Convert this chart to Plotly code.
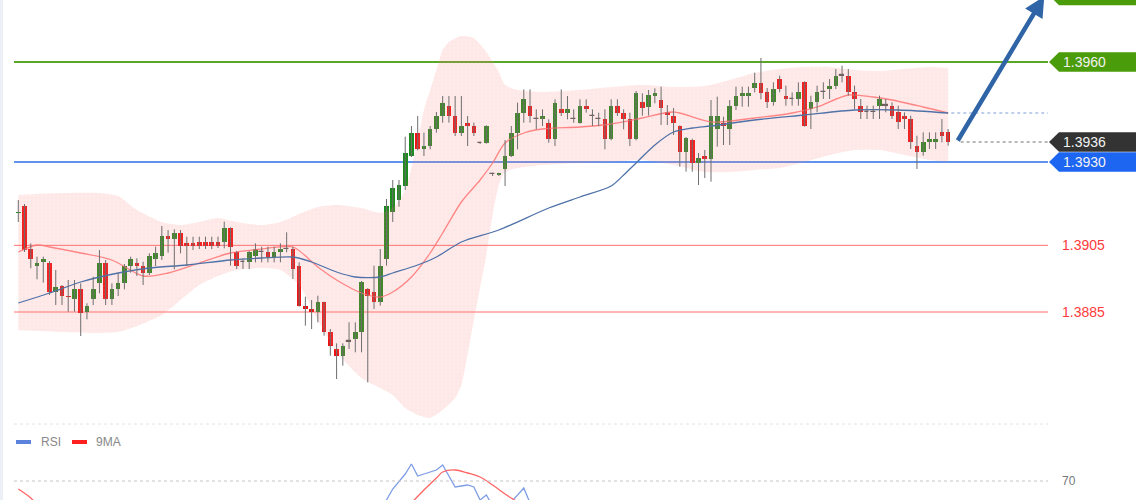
import plotly.graph_objects as go

# ---------------- data ----------------
opens = [
    1.39147, 1.39169, 1.39038, 1.38988, 1.38999, 1.38998, 1.38909, 1.38928, 1.38898, 1.38888,
    1.38918, 1.38851, 1.38888, 1.38936, 1.38998, 1.38888, 1.38918, 1.38938, 1.38988, 1.38998,
    1.38988, 1.38968, 1.39008, 1.39018, 1.39078, 1.39068, 1.39088, 1.39058, 1.39058, 1.39059,
    1.39059, 1.39059, 1.39059, 1.39061, 1.39101, 1.39029, 1.38999, 1.38999, 1.39019, 1.39029,
    1.39029, 1.39016, 1.39029, 1.39039, 1.39039, 1.38989, 1.38869, 1.38859, 1.38849, 1.38879,
    1.38789, 1.38739, 1.38719, 1.38761, 1.38769, 1.38789, 1.38919, 1.38909, 1.38879, 1.39009,
    1.39150, 1.39186, 1.39228, 1.39318, 1.39388, 1.39338, 1.39348, 1.39398, 1.39438, 1.39468,
    1.39438, 1.39388, 1.39418, 1.39408, 1.39358, 1.39358, 1.39264, 1.39261, 1.39278, 1.39318,
    1.39388, 1.39448, 1.39468, 1.39428, 1.39428, 1.39418, 1.39368, 1.39458, 1.39448, 1.39428,
    1.39418, 1.39468, 1.39438, 1.39429, 1.39428, 1.39368, 1.39468, 1.39448, 1.39428, 1.39368,
    1.39481, 1.39466, 1.39498, 1.39486, 1.39451, 1.39438, 1.39408, 1.39331, 1.39366, 1.39296,
    1.39318, 1.39308, 1.39398, 1.39418, 1.39398, 1.39468, 1.39498, 1.39498, 1.39521, 1.39538,
    1.39509, 1.39479, 1.39549, 1.39499, 1.39489, 1.39489, 1.39539, 1.39459, 1.39479, 1.39509,
    1.39519, 1.39529, 1.39559, 1.39559, 1.39509, 1.39469, 1.39449, 1.39450, 1.39469, 1.39469,
    1.39469, 1.39449, 1.39439, 1.39429, 1.39349, 1.39329, 1.39359, 1.39359, 1.39389, 1.39389,
]
highs = [
    1.39186, 1.39174, 1.39056, 1.39016, 1.39016, 1.39003, 1.38976, 1.38931, 1.38946, 1.38946,
    1.38936, 1.38876, 1.38956, 1.39036, 1.39006, 1.38936, 1.38966, 1.38994, 1.39016, 1.39011,
    1.39001, 1.39026, 1.39046, 1.39108, 1.39096, 1.39098, 1.39096, 1.39076, 1.39076, 1.39076,
    1.39076, 1.39076, 1.39076, 1.39121, 1.39104, 1.39033, 1.39011, 1.39033, 1.39056, 1.39046,
    1.39046, 1.39046, 1.39056, 1.39089, 1.39046, 1.38999, 1.38896, 1.38886, 1.38899, 1.38881,
    1.38799, 1.38756, 1.38756, 1.38819, 1.38819, 1.38943, 1.38922, 1.38989, 1.39039, 1.39189,
    1.39246, 1.39246, 1.39376, 1.39408, 1.39438, 1.39388, 1.39408, 1.39450, 1.39498, 1.39498,
    1.39498, 1.39498, 1.39438, 1.39418, 1.39361, 1.39410, 1.39268, 1.39268, 1.39366, 1.39408,
    1.39478, 1.39518, 1.39518, 1.39458, 1.39458, 1.39428, 1.39488, 1.39518, 1.39498, 1.39458,
    1.39488, 1.39488, 1.39458, 1.39448, 1.39458, 1.39488, 1.39488, 1.39458, 1.39448, 1.39513,
    1.39506, 1.39516, 1.39521, 1.39526, 1.39471, 1.39462, 1.39410, 1.39375, 1.39370, 1.39327,
    1.39336, 1.39486, 1.39496, 1.39436, 1.39486, 1.39526, 1.39526, 1.39526, 1.39568, 1.39612,
    1.39522, 1.39539, 1.39559, 1.39529, 1.39509, 1.39539, 1.39542, 1.39499, 1.39529, 1.39539,
    1.39549, 1.39579, 1.39589, 1.39579, 1.39529, 1.39489, 1.39469, 1.39469, 1.39499, 1.39489,
    1.39479, 1.39469, 1.39449, 1.39439, 1.39379, 1.39389, 1.39389, 1.39389, 1.39429, 1.39399,
]
lows = [
    1.39120, 1.39030, 1.38981, 1.38948, 1.38938, 1.38901, 1.38871, 1.38871, 1.38851, 1.38851,
    1.38778, 1.38828, 1.38871, 1.38906, 1.38871, 1.38871, 1.38898, 1.38918, 1.38968, 1.38958,
    1.38931, 1.38961, 1.38988, 1.39006, 1.39028, 1.38978, 1.39026, 1.38988, 1.39036, 1.39039,
    1.39039, 1.39039, 1.39042, 1.39041, 1.38989, 1.38979, 1.38979, 1.38979, 1.38999, 1.38999,
    1.38999, 1.38999, 1.38999, 1.39029, 1.38949, 1.38866, 1.38809, 1.38799, 1.38819, 1.38779,
    1.38719, 1.38649, 1.38689, 1.38739, 1.38729, 1.38729, 1.38639, 1.38859, 1.38869, 1.38989,
    1.39120, 1.39166, 1.39216, 1.39315, 1.39335, 1.39318, 1.39338, 1.39388, 1.39418, 1.39418,
    1.39378, 1.39378, 1.39348, 1.39378, 1.39354, 1.39355, 1.39258, 1.39258, 1.39228, 1.39315,
    1.39338, 1.39418, 1.39418, 1.39398, 1.39408, 1.39358, 1.39348, 1.39438, 1.39428, 1.39418,
    1.39415, 1.39448, 1.39408, 1.39408, 1.39338, 1.39365, 1.39438, 1.39398, 1.39348, 1.39365,
    1.39439, 1.39439, 1.39476, 1.39411, 1.39411, 1.39381, 1.39286, 1.39271, 1.39271, 1.39231,
    1.39252, 1.39241, 1.39346, 1.39351, 1.39351, 1.39456, 1.39466, 1.39466, 1.39509, 1.39488,
    1.39462, 1.39469, 1.39509, 1.39469, 1.39469, 1.39469, 1.39406, 1.39399, 1.39449, 1.39489,
    1.39489, 1.39519, 1.39539, 1.39499, 1.39459, 1.39429, 1.39429, 1.39429, 1.39429, 1.39449,
    1.39429, 1.39399, 1.39399, 1.39339, 1.39279, 1.39319, 1.39339, 1.39339, 1.39359, 1.39349,
]
closes = [
    1.39150, 1.39036, 1.39009, 1.38998, 1.39009, 1.38911, 1.38926, 1.38898, 1.38895, 1.38918,
    1.38848, 1.38868, 1.38918, 1.38998, 1.38888, 1.38918, 1.38938, 1.38988, 1.39008, 1.38988,
    1.38968, 1.39018, 1.39028, 1.39078, 1.39068, 1.39088, 1.39048, 1.39048, 1.39048, 1.39049,
    1.39049, 1.39049, 1.39049, 1.39101, 1.39046, 1.38989, 1.39001, 1.39029, 1.39039, 1.39030,
    1.39016, 1.39029, 1.39039, 1.39040, 1.38979, 1.38869, 1.38859, 1.38849, 1.38879, 1.38789,
    1.38749, 1.38719, 1.38749, 1.38762, 1.38789, 1.38939, 1.38899, 1.38879, 1.38989, 1.39169,
    1.39222, 1.39231, 1.39328, 1.39388, 1.39338, 1.39348, 1.39398, 1.39438, 1.39478, 1.39438,
    1.39388, 1.39408, 1.39408, 1.39388, 1.39357, 1.39408, 1.39263, 1.39266, 1.39318, 1.39388,
    1.39448, 1.39488, 1.39438, 1.39429, 1.39438, 1.39368, 1.39478, 1.39448, 1.39458, 1.39429,
    1.39468, 1.39458, 1.39439, 1.39428, 1.39368, 1.39468, 1.39448, 1.39428, 1.39368, 1.39508,
    1.39461, 1.39501, 1.39508, 1.39461, 1.39441, 1.39416, 1.39331, 1.39372, 1.39296, 1.39311,
    1.39308, 1.39438, 1.39438, 1.39408, 1.39468, 1.39498, 1.39508, 1.39508, 1.39538, 1.39508,
    1.39479, 1.39519, 1.39519, 1.39489, 1.39490, 1.39509, 1.39409, 1.39479, 1.39509, 1.39510,
    1.39529, 1.39559, 1.39560, 1.39509, 1.39489, 1.39449, 1.39450, 1.39449, 1.39489, 1.39470,
    1.39439, 1.39419, 1.39429, 1.39359, 1.39329, 1.39359, 1.39369, 1.39369, 1.39379, 1.39360,
]

# Bollinger bands (sampled at candle indices)
bb_up_idx = [0, 7, 13, 16, 19, 23, 26, 29, 32, 35, 39, 42, 45, 48, 51, 55, 58, 60, 62, 64,
             65, 66, 67, 68, 69, 71, 73, 75, 77, 78, 80, 84, 90, 95, 100, 105, 110, 114, 118,
             122, 126, 130, 134, 138, 142, 146, 149]
bb_upper = [1.39201, 1.39207, 1.39207, 1.39198, 1.39156, 1.39120, 1.39111, 1.39120, 1.39132,
            1.39120, 1.39111, 1.39120, 1.39144, 1.39165, 1.39171, 1.39162, 1.39147, 1.39162,
            1.39216, 1.39366, 1.39456, 1.39516, 1.39576, 1.39636, 1.39660, 1.39678, 1.39672,
            1.39630, 1.39570, 1.39531, 1.39516, 1.39510, 1.39516, 1.39525, 1.39531, 1.39525,
            1.39528, 1.39546, 1.39567, 1.39579, 1.39585, 1.39585, 1.39576, 1.39573, 1.39579,
            1.39585, 1.39582]
bb_lo_idx = [0, 7, 13, 16, 19, 23, 26, 29, 32, 35, 39, 42, 45, 48, 51, 55, 58, 60, 62, 64,
             66, 68, 70, 71, 73, 75, 76, 77, 78, 80, 84, 90, 95, 100, 105, 110, 114, 118, 122,
             126, 130, 134, 138, 142, 146, 149]
bb_lower = [1.38796, 1.38790, 1.38787, 1.38790, 1.38808, 1.38841, 1.38886, 1.38931, 1.38958,
            1.38976, 1.38982, 1.38976, 1.38931, 1.38826, 1.38730, 1.38652, 1.38622, 1.38601,
            1.38562, 1.38541, 1.38532, 1.38556, 1.38592, 1.38631, 1.38826, 1.39021, 1.39141,
            1.39231, 1.39270, 1.39282, 1.39291, 1.39297, 1.39300, 1.39306, 1.39291, 1.39270,
            1.39270, 1.39276, 1.39282, 1.39300, 1.39321, 1.39336, 1.39336, 1.39321, 1.39306,
            1.39300]

# moving averages
ma_red_idx = [0, 3, 5, 10, 15, 20, 24, 29, 34, 39, 44, 48, 51, 55, 58, 60, 63, 66, 68, 71,
              74, 76, 78, 81, 84, 90, 95, 100, 105, 111, 118, 124, 128, 133, 137, 140, 145, 149]
ma_red = [1.39030, 1.39051, 1.39045, 1.39027, 1.39006, 1.38958, 1.38967, 1.38997, 1.39027,
          1.39039, 1.39045, 1.38985, 1.38946, 1.38907, 1.38895, 1.38910, 1.38955, 1.39027,
          1.39087, 1.39180, 1.39246, 1.39297, 1.39357, 1.39387, 1.39399, 1.39405, 1.39414,
          1.39432, 1.39450, 1.39420, 1.39432, 1.39447, 1.39465, 1.39501, 1.39495, 1.39486,
          1.39465, 1.39447]
ma_blue_idx = [0, 5, 10, 16, 21, 27, 34, 39, 44, 47, 51, 54, 58, 60, 64, 67, 71, 77, 85, 90,
               95, 97, 99, 102, 105, 108, 111, 118, 126, 134, 141, 149]
ma_blue = [1.38877, 1.38907, 1.38940, 1.38967, 1.38982, 1.38991, 1.39006, 1.39012, 1.39015,
           1.39000, 1.38970, 1.38955, 1.38955, 1.38967, 1.38991, 1.39015, 1.39060, 1.39096,
           1.39162, 1.39195, 1.39228, 1.39261, 1.39297, 1.39351, 1.39390, 1.39402, 1.39408,
           1.39426, 1.39441, 1.39456, 1.39456, 1.39447]

# RSI panel (only the part above ~60 is visible)
rsi_idx = [58, 59, 60, 62, 63, 64, 65, 67, 68, 70, 72, 73, 74, 75, 76, 78, 79, 81, 82, 83]
rsi = [50.5, 60.5, 66, 73.5, 78.5, 72.5, 73.5, 75.5, 78, 67, 68, 67, 60.5, 63, 57.5, 55.5,
       59.5, 66.5, 59, 53]
ma9_idx = [0, 2, 3, None, 61, 62, 63, 65, 67, 68, 70, 72, 74, 76, 78, 80, 82]
ma9 = [66, 61.5, 58, None, 52, 55.5, 59, 65.5, 71.5, 74.5, 75.5, 74, 72, 68, 63.5, 59.5, 55.5]

# key levels
level_resist = 1.3960
level_target = 1.3980
level_support = 1.3930
level_red = [1.3905, 1.3885]
rsi_level = 70

# ---------------- layout constants ----------------
W, H = 1140, 500
PL, PR = 14, 1048           # plot area in page pixels
X_RANGE = [-0.69, 165.0]
Y_RANGE = [1.38514, 1.39786]
MAIN_DOM = [1 - 424 / H, 1.0]
RSI_DOM = [0.0, 1 - 430 / H]
RSI_RANGE = [60.5, 95.5]
FONT = "Liberation Sans, Arial, sans-serif"


def xp(px):
    return (px - PL) / (PR - PL)


def ypp(py):
    return 1 - py / H


n = len(opens)
idx = list(range(n))

fig = go.Figure()

# Bollinger band fill
fig.add_trace(go.Scatter(x=bb_up_idx, y=bb_upper, mode="lines",
                         line=dict(width=0, shape="spline", smoothing=0.6),
                         hoverinfo="skip", showlegend=False))
fig.add_trace(go.Scatter(x=bb_lo_idx, y=bb_lower, mode="lines",
                         line=dict(width=0, shape="spline", smoothing=0.6),
                         fill="tonexty",
                         fillpattern=dict(shape=".", fillmode="replace",
                                          bgcolor="rgba(255,125,125,0.16)",
                                          fgcolor="rgba(245,140,140,0.10)",
                                          size=4, solidity=0.15),
                         hoverinfo="skip", showlegend=False))

# moving averages
fig.add_trace(go.Scatter(x=ma_red_idx, y=ma_red, mode="lines",
                         line=dict(color="rgba(255,115,115,0.85)", width=1.3,
                                   shape="spline", smoothing=0.8),
                         hoverinfo="skip", showlegend=False))
fig.add_trace(go.Scatter(x=ma_blue_idx, y=ma_blue, mode="lines",
                         line=dict(color="#4f72a8", width=1.3,
                                   shape="spline", smoothing=0.8),
                         hoverinfo="skip", showlegend=False))

# wicks
wx, wy = [], []
for i in idx:
    wx += [i, i, None]
    wy += [lows[i], highs[i], None]
fig.add_trace(go.Scatter(x=wx, y=wy, mode="lines",
                         line=dict(color="#6e6e6e", width=1),
                         hoverinfo="skip", showlegend=False))

# bodies
groups = {"up": ([], [], []), "down": ([], [], []), "doji": ([], [], [])}
for i in idx:
    o, c = opens[i], closes[i]
    if abs(c - o) <= 0.000021:
        key = "doji"
    elif c > o:
        key = "up"
    else:
        key = "down"
    gx, gb, gh = groups[key]
    gx.append(i)
    gb.append(min(o, c))
    gh.append(abs(c - o))

styles = {
    "up": dict(color="#1c8a1c", line=dict(width=0)),
    "down": dict(color="#ee1111", line=dict(width=0)),
    "doji": dict(color="#555555", line=dict(width=1.2, color="#555555")),
}
for key, (gx, gb, gh) in groups.items():
    fig.add_trace(go.Bar(x=gx, y=gh, base=gb, width=0.74, marker=styles[key],
                         hoverinfo="skip", showlegend=False))

# RSI lines
fig.add_trace(go.Scatter(x=rsi_idx, y=rsi, mode="lines", xaxis="x2", yaxis="y2",
                         line=dict(color="#7d9de6", width=1.3),
                         hoverinfo="skip", showlegend=False))
fig.add_trace(go.Scatter(x=ma9_idx, y=ma9, mode="lines", xaxis="x2", yaxis="y2",
                         line=dict(color="#ff6464", width=1.3, shape="spline"),
                         connectgaps=False, hoverinfo="skip", showlegend=False))

shapes = []
annotations = []

# horizontal levels
shapes.append(dict(type="line", xref="paper", yref="y", x0=0, x1=1,
                   y0=level_resist, y1=level_resist,
                   line=dict(color="#5aa629", width=2), layer="below"))
shapes.append(dict(type="line", xref="paper", yref="y", x0=0, x1=1,
                   y0=level_support, y1=level_support,
                   line=dict(color="#2c6fe6", width=1.5), layer="below"))
for lv in level_red:
    shapes.append(dict(type="line", xref="paper", yref="y", x0=0, x1=1, y0=lv, y1=lv,
                       line=dict(color="#ff6e6e", width=1), layer="below"))
    annotations.append(dict(xref="paper", yref="y", x=xp(1060), y=lv, xanchor="left",
                            yanchor="middle", text=f"{lv:.4f}", showarrow=False,
                            font=dict(family=FONT, size=14, color="#ff3b3b")))

# dotted guides from last candle
last_close = closes[-1]
shapes.append(dict(type="line", xref="x", yref="y", x0=n + 1, x1=X_RANGE[1],
                   y0=last_close, y1=last_close,
                   line=dict(color="#a0a0a0", width=1.5, dash="dot")))
shapes.append(dict(type="line", xref="x", yref="y", x0=n - 0.5, x1=X_RANGE[1],
                   y0=ma_blue[-1], y1=ma_blue[-1],
                   line=dict(color="#7f9fd6", width=1.2, dash="dot")))

# right-hand price tags
TAG_H = 0.000295


def tag(level, color, txt_color="#f2f2f2", text=None):
    p = (f"M {xp(1049)},{level} L {xp(1059)},{level + TAG_H} "
         f"L {xp(1136)},{level + TAG_H} L {xp(1136)},{level - TAG_H} "
         f"L {xp(1059)},{level - TAG_H} Z")
    shapes.append(dict(type="path", xref="paper", yref="y", path=p,
                       fillcolor=color, line=dict(width=0)))
    annotations.append(dict(xref="paper", yref="y", x=xp(1061), y=level, xanchor="left",
                            yanchor="middle", text=text or f"{level:.4f}", showarrow=False,
                            font=dict(family=FONT, size=14, color=txt_color)))


tag(level_target, "#4a9c0a")
tag(level_resist, "#4a9c0a")
tag(last_close, "#333333")
tag(level_support, "#1c66f2")

# target arrow
annotations.append(dict(xref="x", yref="y", axref="x", ayref="y",
                        x=164.4, y=1.39797, ax=150.4, ay=last_close,
                        text="", showarrow=True, arrowhead=2, arrowsize=0.9,
                        arrowwidth=4.5, arrowcolor="#2f64a6", standoff=0))

# separator between panels and RSI 70 line
shapes.append(dict(type="line", xref="paper", yref="paper", x0=0, x1=1,
                   y0=ypp(424), y1=ypp(424),
                   line=dict(color="#e2e2e2", width=1, dash="dot")))
shapes.append(dict(type="line", xref="paper", yref="y2", x0=0, x1=1,
                   y0=rsi_level, y1=rsi_level,
                   line=dict(color="#c4c4c4", width=1, dash="dot")))
annotations.append(dict(xref="paper", yref="y2", x=xp(1060), y=rsi_level, xanchor="left",
                        yanchor="middle", text=str(rsi_level), showarrow=False,
                        font=dict(family=FONT, size=12, color="#777777")))

# faint left border
shapes.append(dict(type="line", xref="paper", yref="paper", x0=xp(1.5), x1=xp(1.5),
                   y0=0, y1=1, line=dict(color="#eceff3", width=3)))

# RSI legend
for x0, x1, col, label, tx in [(16, 31, "#5b82dc", "RSI", 39), (72, 87, "#ff2020", "9MA", 94)]:
    shapes.append(dict(type="line", xref="paper", yref="paper", x0=xp(x0), x1=xp(x1),
                       y0=ypp(442), y1=ypp(442), line=dict(color=col, width=4)))
    annotations.append(dict(xref="paper", yref="paper", x=xp(tx), y=ypp(442),
                            xanchor="left", yanchor="middle", text=label, showarrow=False,
                            font=dict(family=FONT, size=12, color="#888888")))

axis_off = dict(showgrid=False, zeroline=False, showticklabels=False, showline=False,
                ticks="")
fig.update_layout(
    width=W, height=H,
    margin=dict(l=PL, r=W - PR, t=0, b=0),
    paper_bgcolor="white", plot_bgcolor="white",
    barmode="overlay", bargap=0, hovermode=False, showlegend=False,
    xaxis=dict(range=X_RANGE, domain=[0, 1], anchor="y", **axis_off),
    yaxis=dict(range=Y_RANGE, domain=MAIN_DOM, anchor="x", **axis_off),
    xaxis2=dict(range=X_RANGE, domain=[0, 1], anchor="y2", matches="x", **axis_off),
    yaxis2=dict(range=RSI_RANGE, domain=RSI_DOM, anchor="x2", **axis_off),
    shapes=shapes, annotations=annotations,
    font=dict(family=FONT),
)

fig.write_html("out.html", config={"displayModeBar": False})
